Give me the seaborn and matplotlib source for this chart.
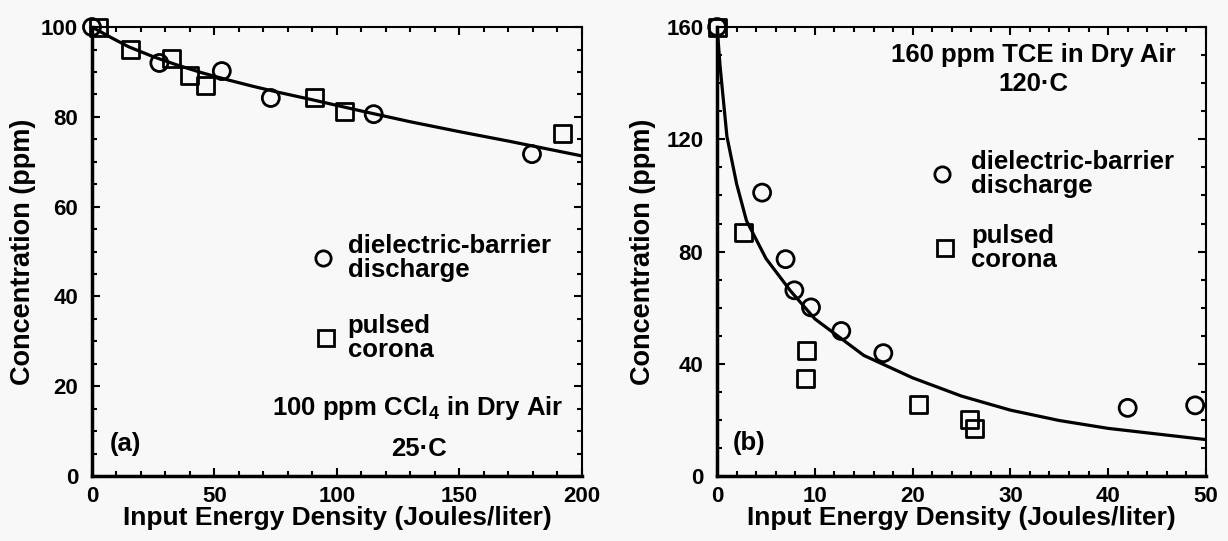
import numpy as np
import pandas as pd
import matplotlib
matplotlib.use("Agg")
import matplotlib.pyplot as plt
import seaborn as sns

# Panel (a): CCl4, 25 C
a_dbd_x = [0, 27.5, 53, 73, 115, 179.6]
a_dbd_y = [100, 92.0, 90.2, 84.2, 80.6, 71.7]
a_pc_x = [2.5, 15.8, 32.5, 40, 46.5, 91, 103, 192]
a_pc_y = [100, 94.9, 93.0, 89.1, 87.0, 84.3, 81.3, 76.3]
a_fit_x = [0, 3, 8, 15, 25, 35, 45, 55, 65, 75, 90, 110, 130, 150, 170, 200]
a_fit_y = [100, 99.1, 97.6, 95.6, 93.4, 91.5, 89.8, 88.3, 86.9, 85.6, 83.8, 81.3, 78.9, 76.7, 74.6, 71.3]

# Panel (b): TCE, 120 C
b_dbd_x = [0, 4.6, 7.0, 7.9, 9.6, 12.7, 17.0, 42.0, 48.9]
b_dbd_y = [160, 101, 77.3, 66.2, 60.1, 51.7, 43.8, 24.3, 25.2]
b_pc_x = [0, 2.7, 9.1, 9.0, 20.6, 25.8, 26.3]
b_pc_y = [160, 86.8, 44.7, 34.8, 25.6, 20.0, 16.9]
b_fit_x = [0, 0.3, 1, 2, 3, 5, 7.5, 10, 15, 20, 25, 30, 35, 40, 45, 50]
b_fit_y = [160, 146, 121, 104, 91, 77.5, 66, 56, 43, 35, 28.5, 23.5, 19.8, 17, 15, 13]

sns.set_style("ticks")
plt.rcParams['font.family'] = ['Liberation Sans', 'DejaVu Sans']
plt.rcParams['font.weight'] = 'bold'
plt.rcParams['mathtext.fontset'] = 'custom'
plt.rcParams['mathtext.rm'] = 'Liberation Sans:bold'
plt.rcParams['mathtext.it'] = 'Liberation Sans:bold'
plt.rcParams['mathtext.bf'] = 'Liberation Sans:bold'
for k in ['text.color', 'axes.labelcolor', 'xtick.color', 'ytick.color', 'axes.edgecolor']:
    plt.rcParams[k] = 'black'

bg = '#f8f8f8'
fig = plt.figure(figsize=(12.28, 5.41), dpi=100, facecolor=bg)
ax1 = fig.add_axes([0.0749, 0.120, 0.399, 0.830])
ax2 = fig.add_axes([0.584, 0.120, 0.398, 0.830])

mk = dict(s=150, facecolor='none', edgecolor='black', linewidth=2, clip_on=False, zorder=3)


def draw(ax, fx, fy, cx, cy, sx, sy):
    ax.set_facecolor(bg)
    sns.lineplot(x=fx, y=fy, ax=ax, color='black', linewidth=2.3, zorder=2)
    sns.scatterplot(x=cx, y=cy, ax=ax, marker='o', **mk)
    sns.scatterplot(x=sx, y=sy, ax=ax, marker='s', **mk)
    for s in ['left', 'bottom']:
        ax.spines[s].set_linewidth(2.5)
    for s in ['top', 'right']:
        ax.spines[s].set_linewidth(1.5)
    ax.tick_params(which='both', direction='in', top=True, right=True,
                   width=1.5, labelsize=16)
    ax.tick_params(which='major', length=6)
    ax.tick_params(which='minor', length=3.5)
    ax.tick_params(axis='y', pad=10)
    ax.tick_params(axis='x', pad=7)
    ax.set_xlabel("Input Energy Density (Joules/liter)", fontsize=19, fontweight='bold')
    ax.set_ylabel("Concentration (ppm)", fontsize=19.5, fontweight='bold')
    ax.xaxis.set_label_coords(0.5, -0.066)


draw(ax1, a_fit_x, a_fit_y, a_dbd_x, a_dbd_y, a_pc_x, a_pc_y)
ax1.set_xlim(0, 200)
ax1.set_ylim(0, 100)
ax1.set_xticks(np.arange(0, 201, 50))
ax1.set_xticks(np.arange(0, 201, 10), minor=True)
ax1.set_yticks(np.arange(0, 101, 20))
ax1.set_yticks(np.arange(0, 101, 5), minor=True)
ax1.yaxis.set_label_coords(-0.114, 0.5)

draw(ax2, b_fit_x, b_fit_y, b_dbd_x, b_dbd_y, b_pc_x, b_pc_y)
ax2.set_xlim(0, 50)
ax2.set_ylim(0, 160)
ax2.set_xticks(np.arange(0, 51, 10))
ax2.set_xticks(np.arange(0, 51, 2), minor=True)
ax2.set_yticks(np.arange(0, 161, 40))
ax2.set_yticks(np.arange(0, 161, 10), minor=True)
ax2.yaxis.set_label_coords(-0.125, 0.5)

txt = dict(fontsize=18.5, fontweight='bold', linespacing=1.0)


def legend(ax, cpos, spos, tx):
    ax.plot(*cpos, marker='o', ms=11, mfc='none', mec='black', mew=2,
            transform=ax.transAxes)
    ax.plot(*spos, marker='s', ms=11, mfc='none', mec='black', mew=2,
            transform=ax.transAxes)
    ax.text(tx, cpos[1], "dielectric-barrier\ndischarge", transform=ax.transAxes,
            va='center', ha='left', **txt)
    ax.text(tx, spos[1], "pulsed\ncorona", transform=ax.transAxes,
            va='center', ha='left', **txt)


legend(ax1, (0.472, 0.486), (0.478, 0.308), 0.522)
legend(ax2, (0.46, 0.672), (0.466, 0.509), 0.52)

ax1.text(133, 15.2, "100 ppm CCl$_4$ in Dry Air", ha='center', va='center', **txt)
ax1.text(133.5, 6.1, "25·C", ha='center', va='center', **txt)
ax1.text(13.5, 7.2, "(a)", ha='center', va='center', **txt)

ax2.text(32.3, 150, "160 ppm TCE in Dry Air", ha='center', va='center', **txt)
ax2.text(32.3, 139.8, "120·C", ha='center', va='center', **txt)
ax2.text(3.3, 11.9, "(b)", ha='center', va='center', **txt)

fig.savefig("out.png", dpi=100, facecolor=bg)
